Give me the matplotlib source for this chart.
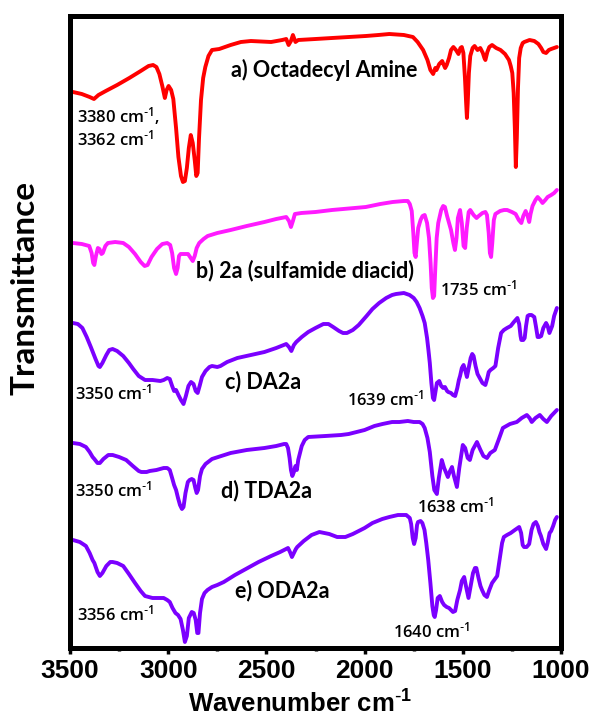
import matplotlib
matplotlib.use("Agg")
import matplotlib.pyplot as plt
from matplotlib.ticker import MultipleLocator

plt.rcParams['mathtext.default'] = 'regular'

# ---- data (wavenumber, transmittance a.u. with stacking) ----
wn_a = [3485, 3440, 3400, 3378, 3355, 3318, 3260, 3198, 3140, 3100, 3077, 3060, 3045, 3030, 3017, 3008,
        2998, 2985, 2974, 2960, 2948, 2935, 2925, 2915, 2905, 2895, 2885, 2875, 2865, 2857, 2850, 2843,
        2833, 2822, 2811, 2795, 2777, 2740, 2682, 2630, 2579, 2476, 2420, 2399, 2387, 2375, 2365, 2352,
        2338, 2250, 2166, 2080, 1994, 1930, 1874, 1800, 1754, 1730, 1702, 1680, 1665, 1651, 1640, 1634,
        1620, 1605, 1599, 1590, 1582, 1570, 1560, 1548, 1535, 1522, 1512, 1505, 1497, 1489, 1483, 1479,
        1475, 1469, 1462, 1450, 1440, 1425, 1411, 1398, 1390, 1385, 1375, 1365, 1351, 1330, 1308, 1285,
        1265, 1256, 1248, 1241, 1235, 1230, 1225, 1219, 1213, 1205, 1195, 1187, 1160, 1136, 1115, 1101,
        1090, 1076, 1062, 1050, 1021]
t_a = [556, 554, 551, 549, 553, 557, 563, 570, 577, 582, 583, 581, 574, 562, 550, 558,
       562, 558, 549, 520, 491, 472, 466, 467, 480, 500, 513, 505, 488, 472, 475, 510,
       548, 570, 581, 592, 598, 599, 603, 606, 607, 606, 608, 609, 603, 607, 613, 606,
       608, 609, 610, 611, 612, 613, 614, 613, 611, 606, 598, 588, 578, 574, 580, 578,
       584, 587, 584, 580, 583, 590, 598, 601, 598, 594, 600, 601, 595, 570, 545, 530,
       545, 575, 592, 600, 602, 598, 600, 595, 590, 588, 596, 601, 603, 600, 598, 594,
       588, 582, 575, 555, 520, 481, 510, 560, 590, 600, 605, 606, 608, 607, 604, 600,
       596, 595, 598, 599, 601]

wn_b = [3485, 3440, 3402, 3390, 3382, 3376, 3368, 3358, 3350, 3340, 3333, 3320, 3307, 3270, 3229, 3200,
        3169, 3140, 3120, 3105, 3085, 3057, 3030, 3005, 2990, 2980, 2970, 2960, 2952, 2945, 2937, 2915,
        2899, 2885, 2875, 2865, 2855, 2842, 2820, 2799, 2750, 2682, 2600, 2510, 2450, 2399, 2385, 2375,
        2365, 2355, 2322, 2250, 2166, 1994, 1920, 1857, 1800, 1780, 1770, 1760, 1752, 1746, 1740, 1734,
        1727, 1715, 1705, 1694, 1682, 1672, 1664, 1658, 1652, 1646, 1640, 1633, 1625, 1610, 1600, 1591,
        1580, 1570, 1560, 1548, 1540, 1532, 1525, 1514, 1505, 1496, 1488, 1480, 1470, 1462, 1445, 1430,
        1419, 1400, 1385, 1377, 1368, 1362, 1356, 1350, 1342, 1334, 1310, 1290, 1274, 1250, 1231, 1215,
        1202, 1192, 1180, 1170, 1162, 1155, 1145, 1130, 1119, 1105, 1094, 1080, 1068, 1050, 1035, 1021]
t_b = [405, 404, 402, 395, 385, 383, 392, 400, 399, 394, 395, 402, 405, 406, 405, 401,
       394, 386, 382, 383, 391, 399, 404, 405, 403, 395, 380, 374, 380, 392, 394, 394,
       394, 390, 387, 392, 400, 405, 409, 412, 415, 418, 422, 426, 429, 431, 427, 421,
       427, 434, 435, 436, 438, 441, 444, 446, 447, 447, 444, 437, 415, 395, 391, 405,
       420, 428, 432, 433, 425, 410, 385, 360, 350, 352, 380, 410, 425, 438, 442, 441,
       432, 425, 418, 405, 398, 410, 430, 438, 425, 402, 400, 420, 436, 438, 433, 430,
       432, 435, 436, 433, 415, 395, 391, 405, 428, 434, 437, 438, 438, 436, 434, 428,
       425, 432, 437, 432, 426, 434, 442, 448, 451, 448, 445, 448, 451, 453, 455, 458]

wn_c = [3485, 3460, 3437, 3415, 3394, 3370, 3355, 3348, 3335, 3315, 3300, 3283, 3260, 3229, 3200, 3178,
        3150, 3118, 3080, 3040, 3023, 3005, 2992, 2980, 2970, 2960, 2948, 2935, 2922, 2910, 2897, 2884,
        2871, 2860, 2850, 2840, 2828, 2810, 2790, 2777, 2750, 2734, 2700, 2648, 2580, 2510, 2450, 2399,
        2385, 2373, 2360, 2348, 2320, 2287, 2250, 2210, 2184, 2160, 2130, 2110, 2090, 2060, 2030, 1990,
        1960, 1926, 1890, 1860, 1840, 1800, 1771, 1750, 1735, 1720, 1705, 1694, 1682, 1675, 1668, 1660,
        1652, 1646, 1640, 1632, 1620, 1610, 1600, 1591, 1580, 1574, 1560, 1550, 1539, 1528, 1520, 1514,
        1505, 1496, 1488, 1479, 1470, 1460, 1452, 1445, 1435, 1425, 1411, 1400, 1385, 1375, 1368, 1359,
        1345, 1334, 1320, 1305, 1291, 1275, 1256, 1240, 1222, 1213, 1206, 1202, 1192, 1185, 1178, 1170,
        1162, 1150, 1136, 1128, 1119, 1110, 1101, 1090, 1076, 1068, 1059, 1045, 1035, 1021]
t_c = [325, 324, 320, 311, 301, 289, 282, 281, 285, 293, 298, 299, 297, 292, 285, 279,
       272, 268, 268, 267, 268, 270, 269, 262, 257, 258, 253, 248, 244, 252, 262, 266,
       264, 257, 255, 262, 271, 277, 281, 282, 281, 282, 286, 290, 293, 296, 300, 304,
       301, 297, 303, 306, 311, 316, 320, 324, 324, 321, 317, 315, 315, 318, 323, 332,
       339, 345, 350, 353, 354, 355, 353, 350, 346, 340, 332, 325, 310, 298, 285, 265,
       250, 248, 255, 265, 267, 262, 260, 261, 257, 256, 255, 253, 252, 260, 268, 272,
       280, 283, 278, 271, 280, 290, 294, 292, 282, 274, 269, 265, 263, 270, 276, 278,
       280, 282, 300, 315, 318, 320, 322, 326, 330, 324, 312, 308, 308, 310, 322, 332,
       333, 333, 331, 322, 311, 311, 312, 320, 325, 322, 315, 322, 332, 340]

wn_d = [3485, 3450, 3419, 3400, 3385, 3376, 3360, 3348, 3330, 3305, 3283, 3250, 3214, 3180, 3150, 3137,
        3110, 3094, 3060, 3023, 3005, 2992, 2980, 2970, 2960, 2950, 2940, 2930, 2922, 2912, 2900, 2891,
        2880, 2871, 2862, 2855, 2848, 2838, 2828, 2810, 2777, 2730, 2682, 2600, 2510, 2450, 2410, 2399,
        2390, 2382, 2375, 2368, 2360, 2352, 2345, 2338, 2320, 2305, 2287, 2200, 2120, 2081, 2000, 1950,
        1909, 1860, 1823, 1780, 1750, 1720, 1705, 1694, 1680, 1668, 1655, 1645, 1632, 1622, 1607, 1595,
        1576, 1565, 1555, 1545, 1530, 1518, 1500, 1488, 1475, 1464, 1450, 1428, 1410, 1395, 1377, 1360,
        1337, 1318, 1296, 1260, 1225, 1200, 1174, 1160, 1149, 1130, 1108, 1090, 1072, 1050, 1021]
t_d = [205, 204, 201, 196, 191, 189, 185, 185, 189, 193, 193, 191, 188, 182, 177, 176,
       176, 177, 178, 180, 180, 178, 170, 163, 158, 150, 143, 139, 141, 155, 166, 168,
       169, 168, 160, 155, 158, 172, 179, 184, 189, 192, 195, 198, 200, 202, 204, 204,
       200, 190, 178, 172, 176, 182, 178, 188, 202, 208, 211, 212, 213, 214, 218, 222,
       224, 226, 226, 227, 226, 226, 224, 220, 210, 196, 172, 158, 154, 170, 188, 180,
       171, 177, 181, 172, 161, 180, 203, 200, 190, 188, 198, 206, 198, 192, 190, 195,
       198, 208, 220, 224, 226, 230, 233, 230, 226, 230, 233, 229, 226, 232, 238]

wn_e = [3485, 3450, 3419, 3400, 3385, 3376, 3360, 3348, 3335, 3315, 3295, 3283, 3260, 3229, 3200, 3169,
        3140, 3118, 3080, 3040, 3023, 3005, 2992, 2978, 2963, 2950, 2937, 2925, 2915, 2905, 2895, 2880,
        2870, 2860, 2852, 2846, 2838, 2828, 2815, 2800, 2777, 2750, 2717, 2660, 2596, 2540, 2476, 2430,
        2390, 2380, 2370, 2360, 2350, 2343, 2310, 2270, 2230, 2180, 2140, 2098, 2060, 2000, 1960, 1910,
        1874, 1830, 1788, 1770, 1763, 1755, 1748, 1740, 1733, 1728, 1715, 1706, 1695, 1686, 1676, 1665,
        1655, 1648, 1643, 1636, 1628, 1617, 1605, 1595, 1582, 1570, 1560, 1550, 1539, 1528, 1514, 1505,
        1493, 1484, 1471, 1460, 1448, 1438, 1431, 1420, 1410, 1402, 1390, 1377, 1365, 1351, 1340, 1325,
        1310, 1300, 1291, 1275, 1256, 1235, 1213, 1203, 1195, 1188, 1175, 1162, 1150, 1140, 1128, 1118,
        1110, 1102, 1090, 1076, 1068, 1058, 1050, 1040, 1030, 1021]
t_e = [108, 106, 102, 95, 88, 85, 76, 72, 75, 82, 86, 86, 85, 82, 74, 65,
       57, 52, 50, 50, 50, 48, 46, 40, 35, 33, 29, 18, 6, 12, 30, 36,
       35, 28, 15, 15, 35, 49, 55, 58, 61, 63, 66, 73, 80, 86, 92, 96,
       100, 96, 91, 95, 99, 101, 107, 113, 116, 114, 111, 111, 114, 120, 125, 129,
       131, 133, 133, 130, 124, 110, 104, 110, 123, 126, 127, 125, 118, 105, 88, 65,
       42, 33, 31, 38, 50, 52, 46, 43, 41, 40, 38, 36, 37, 48, 58, 67,
       71, 62, 50, 62, 75, 80, 80, 70, 62, 58, 53, 51, 58, 65, 68, 72,
       92, 105, 111, 113, 115, 118, 121, 115, 103, 101, 101, 104, 118, 124, 126, 122,
       116, 112, 104, 99, 105, 115, 117, 122, 128, 131]

series_wn = [wn_a, wn_b, wn_c, wn_d, wn_e]
series_t = [t_a, t_b, t_c, t_d, t_e]
series_colors = ['#ff0000', '#ff1aff', '#7b00ff', '#7b00ff', '#7b00ff']

CM = r'cm$^{\text{-}1}$'
# labels: (text, wavenumber, value, is_title)
labels = [
    ('a) Octadecyl Amine', 2680, 578, True),
    ('3380 ' + CM + ',', 3464, 532, False),
    ('3362 ' + CM, 3464, 509, False),
    ('b) 2a (sulfamide diacid)', 2859, 377, True),
    ('1735 ' + CM, 1617, 359, False),
    ('3350 ' + CM, 3475, 255, False),
    ('c) DA2a', 2711, 266, True),
    ('1639 ' + CM, 2090, 249, False),
    ('3350 ' + CM, 3475, 158, False),
    ('d) TDA2a', 2731, 157, True),
    ('1638 ' + CM, 1734, 142, False),
    ('3356 ' + CM, 3464, 34, False),
    ('e) ODA2a', 2660, 57, True),
    ('1640 ' + CM, 1856, 17, False),
]

x_ticks = [3500, 3000, 2500, 2000, 1500, 1000]

W, H = 592, 717
fig = plt.figure(figsize=(W / 100, H / 100), dpi=100)
ax = fig.add_axes([70 / W, (H - 648) / H, (561 - 70) / W, (648 - 16) / H])

for wn, t, c in zip(series_wn, series_t, series_colors):
    ax.plot(wn, t, color=c, lw=2.8, solid_joinstyle='round', solid_capstyle='round')

for txt, x, y, title in labels:
    if title:
        ax.text(x, y, txt, ha='left', va='center', fontsize=15.5, fontweight='bold',
                family=['Lato', 'DejaVu Sans'], color='black')
    else:
        ax.text(x, y, txt, ha='left', va='center', fontsize=12, fontweight=600,
                family=['Open Sans', 'DejaVu Sans'], color='black')

ax.set_xlim(3500, 1000)
ax.set_ylim(0, 632)
ax.set_xticks(x_ticks)
ax.set_xticklabels([str(v) for v in x_ticks], fontsize=19, fontweight='bold', family='Liberation Sans')
ax.xaxis.set_minor_locator(MultipleLocator(250))
ax.set_yticks([])
ax.tick_params(axis='x', which='major', direction='out', length=4, width=2.5, pad=4)
ax.tick_params(axis='x', which='minor', direction='out', length=2.5, width=2.5)
for s in ax.spines.values():
    s.set_linewidth(3.6)
    s.set_color('black')

fig.text(300 / W, 1 - 704 / H, r'Wavenumber cm$^{\text{-}1}$', ha='center', va='center',
         fontsize=18.5, fontweight='bold', family='Liberation Sans')
fig.text(25 / W, 1 - 288 / H, 'Transmittance', ha='center', va='center', rotation=90,
         fontsize=24, fontweight='bold', family=['Lato', 'DejaVu Sans'])

fig.savefig('out.png', dpi=100)
